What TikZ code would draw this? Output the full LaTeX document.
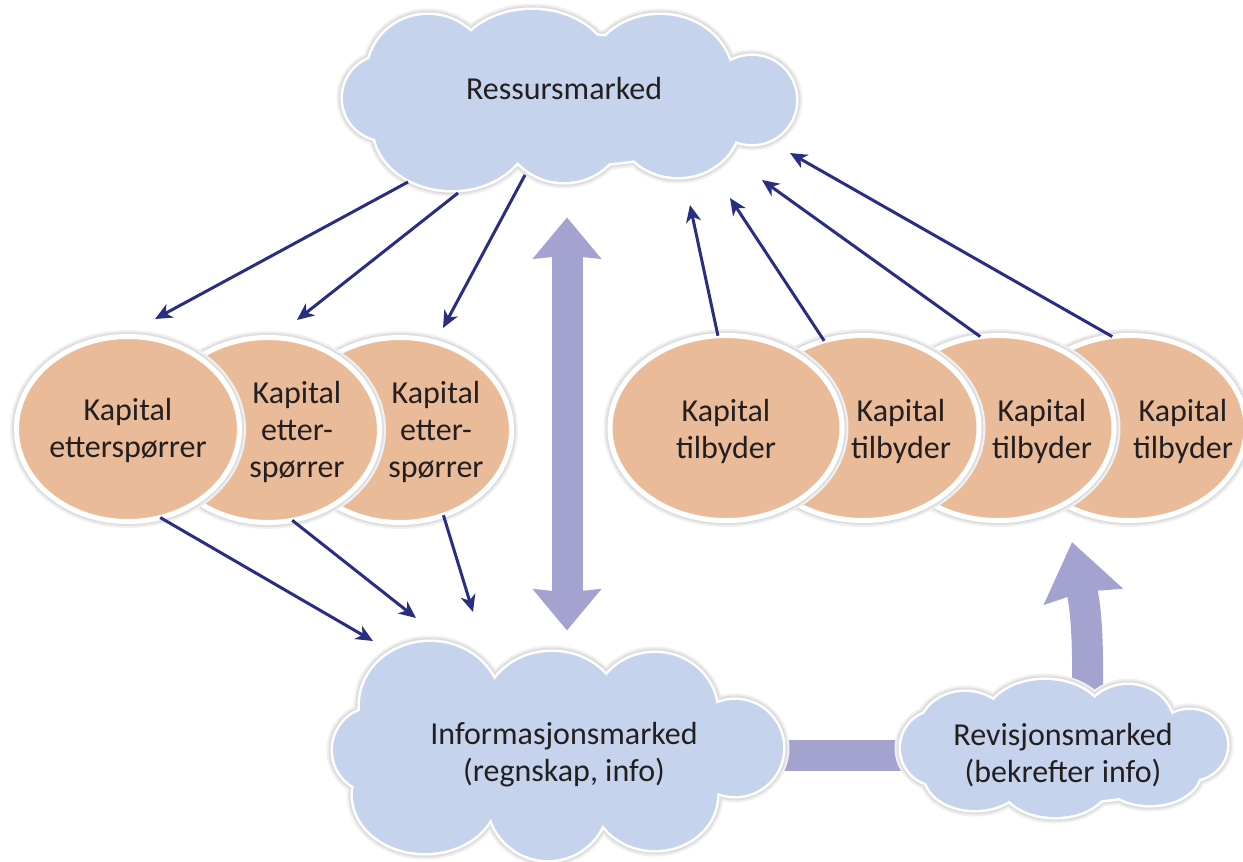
\documentclass[tikz,border=0pt]{standalone}
\usepackage{fontspec}
\setmainfont{Carlito}
\usetikzlibrary{arrows.meta,shapes.geometric}
\pgfdeclarelayer{paper}
\pgfdeclarelayer{back}
\pgfsetlayers{paper,back,main}

\definecolor{cloudblue}{RGB}{197,212,236}
\definecolor{peach}{RGB}{233,187,153}
\definecolor{lavender}{RGB}{164,163,207}
\definecolor{navy}{RGB}{42,46,130}
\definecolor{inktext}{RGB}{35,31,32}

% puffs that make up each cloud (their union is the cloud)
\newcommand\ressurspuffs{(568,100) ellipse [x radius=175, y radius=65]
  (385,98) circle [radius=42] (428,72) ellipse [x radius=60, y radius=57]
  (532,72) ellipse [x radius=80, y radius=62] (660,78) ellipse [x radius=72, y radius=63]
  (752,100) circle [radius=44] (678,120) ellipse [x radius=62, y radius=57]
  (564,122) ellipse [x radius=62, y radius=60] (452,128) ellipse [x radius=78, y radius=62]}
\newcommand\infopuffs{(560,752) ellipse [x radius=180, y radius=72]
  (375,750) circle [radius=42] (430,705) ellipse [x radius=70, y radius=63]
  (552,712) ellipse [x radius=68, y radius=60] (655,712) ellipse [x radius=62, y radius=59]
  (735,748) circle [radius=48] (655,795) ellipse [x radius=62, y radius=55]
  (548,800) ellipse [x radius=60, y radius=60] (425,795) ellipse [x radius=72, y radius=58]}
\newcommand\revpuffs{(1065,752) ellipse [x radius=135, y radius=50]
  (938,748) circle [radius=37] (965,730) ellipse [x radius=45, y radius=38]
  (1045,722) ellipse [x radius=60, y radius=42] (1128,725) ellipse [x radius=45, y radius=40]
  (1190,745) ellipse [x radius=37, y radius=35] (975,775) ellipse [x radius=50, y radius=35]
  (1055,780) ellipse [x radius=55, y radius=37] (1150,772) ellipse [x radius=50, y radius=33]}
\newcommand\puffcloud[1]{%
  \draw[draw=black!6, line width=13pt] #1;
  \draw[draw=black!13, line width=9pt] #1;
  \draw[draw=white, line width=5pt] #1;
  \fill[cloudblue] #1;}

\tikzset{
  capital/.style={ellipse, inner sep=0pt, outer sep=0pt, minimum height=185pt,
    fill=peach, draw=white, line width=5pt,
    preaction={draw=black!6, line width=13pt},
    preaction={draw=black!13, line width=9pt}},
  askers/.style={capital, minimum width=223pt},
  givers/.style={capital, minimum width=232pt},
  txt/.style={text=inktext, align=center, inner sep=0pt,
    font=\fontsize{32}{37}\selectfont},
  flow/.style={draw=navy, line width=3pt, -{Stealth[length=17pt,width=15pt,inset=5pt]}},
  broad/.style={draw=lavender, line width=31pt},
  broadboth/.style={arrows={Stealth[length=41pt,width=67pt,inset=3pt]-Stealth[length=41pt,width=67pt,inset=3pt]}},
  broadup/.style={arrows={-Stealth[length=55pt,width=78pt,inset=4pt]}},
}

\begin{document}
\begin{tikzpicture}[x=1pt,y=-1pt]
\begin{pgfonlayer}{paper}
  \fill[white] (0,0) rectangle (1243,862);
\end{pgfonlayer}
\useasboundingbox (0,0) rectangle (1243,862);

% clouds
\puffcloud{\ressurspuffs}
\puffcloud{\infopuffs}
\puffcloud{\revpuffs}

% capital demanders (back to front)
\node[askers] (e3) at (400,430) {};
\node[askers] (e2) at (268,430) {};
\node[askers] (e1) at (128,429) {};
% capital suppliers (back to front)
\node[givers] (t4) at (1130,428) {};
\node[givers] (t3) at (998,428) {};
\node[givers] (t2) at (863,428) {};
\node[givers] (t1) at (726,428) {};

% texts
\node[txt] (res) at (564,89) {Ressursmarked};
\node[txt] (info) at (564,755) {Informasjonsmarked\\(regnskap, info)};
\node[txt] (rev) at (1063,755) {Revisjonsmarked\\(bekrefter info)};
\node[txt] (e1txt) at (128,430) {Kapital\\etterspørrer};
\node[txt] (e2txt) at (297,432) {Kapital\\etter-\\spørrer};
\node[txt] (e3txt) at (436,432) {Kapital\\etter-\\spørrer};
\node[txt] (t1txt) at (726,431) {Kapital\\tilbyder};
\node[txt] (t2txt) at (901,431) {Kapital\\tilbyder};
\node[txt] (t3txt) at (1042,431) {Kapital\\tilbyder};
\node[txt] (t4txt) at (1183,431) {Kapital\\tilbyder};

% free ends of the thin arrows
\coordinate (rs1) at (408,182);
\coordinate (rs2) at (458,193);
\coordinate (rs3) at (525,175);
\coordinate (ea1) at (155,319);
\coordinate (ea2) at (297,320);
\coordinate (ea3) at (443,328);
\coordinate (rt1) at (690,205);
\coordinate (rt2) at (730,198);
\coordinate (rt3) at (762,180);
\coordinate (rt4) at (790,153);
\coordinate (ie1) at (373,641);
\coordinate (ie2) at (416,618);
\coordinate (ie3) at (473,612);

% resources to the demanders
\draw[flow] (rs1) -- (ea1);
\draw[flow] (rs2) -- (ea2);
\draw[flow] (rs3) -- (ea3);
% suppliers to the resource market
\draw[flow] (t1.95) -- (rt1);
\draw[flow] (t2.114) -- (rt2);
\draw[flow] (t3.101) -- (rt3);
\draw[flow] (t4.101) -- (rt4);
% demanders to the information market
\draw[flow] (e1.-70) -- (ie1);
\draw[flow] (e2.-75) -- (ie2);
\draw[flow] (e3.-63) -- (ie3);

% broad links behind the clouds
\coordinate (revtip) at (1072,542);
\begin{pgfonlayer}{back}
  \draw[broad] (info.east) -- (rev.west);
  \draw[broad, broadboth, shorten <=117pt, shorten >=92pt]
    ([xshift=3pt]res.south) -- ([xshift=3pt]info.north);
  \draw[broad, broadup]
    ([xshift=24pt]rev.north) .. controls (1089,640) and (1086,610) .. (revtip);
\end{pgfonlayer}
\end{tikzpicture}
\end{document}
